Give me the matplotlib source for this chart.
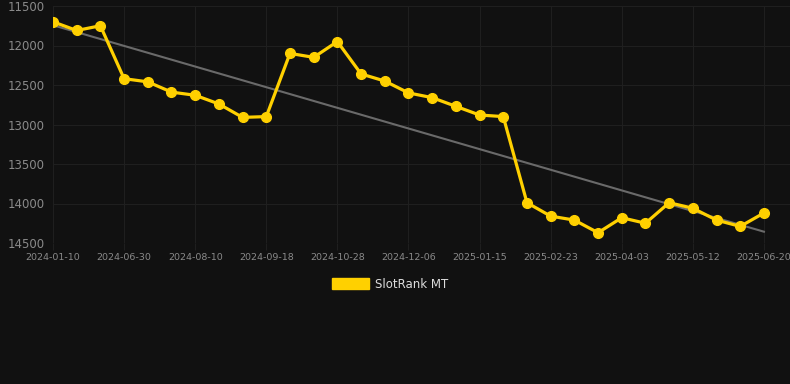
import numpy as np
import matplotlib
matplotlib.use("Agg")
import matplotlib.pyplot as plt

# one point per step; every third date is labelled on the axis
ranks = [11700, 11810, 11750, 12420, 12460, 12590, 12630, 12740, 12910, 12900,
         12100, 12150, 11950, 12360, 12450, 12600, 12660, 12770, 12880, 12900,
         13990, 14160, 14210, 14370, 14180, 14250, 13990, 14060, 14210, 14290,
         14120]
tick_labels = ["2024-01-10", "2024-06-30", "2024-08-10", "2024-09-18",
               "2024-10-28", "2024-12-06", "2025-01-15", "2025-02-23",
               "2025-04-03", "2025-05-12", "2025-06-20"]
series_name = "SlotRank MT"

bg = "#111111"
gold = "#ffd000"
grid = "#1f1f1f"
label_col = "#8a8a8a"

fig = plt.figure(figsize=(7.9, 3.84), dpi=100, facecolor=bg)
ax = fig.add_axes([53 / 790, 1 - 243 / 384, (790 - 53) / 790, (243 - 6) / 384])
ax.set_facecolor(bg)

x = np.arange(len(ranks))
y = np.array(ranks)

# linear trend
k, b = np.polyfit(x, y, 1)
ax.plot(x, k * x + b, color="#6a6a6a", lw=1.5, zorder=2)

ax.plot(x, y, color=gold, lw=2.3, marker="o", ms=7,
        markerfacecolor=gold, markeredgecolor=gold, zorder=3,
        label=series_name)

ax.set_xlim(0, 31.1)
ax.set_ylim(14500, 11500)
ax.set_yticks([11500, 12000, 12500, 13000, 13500, 14000, 14500])
ax.set_xticks(x[::3])
ax.set_xticklabels(tick_labels)

ax.grid(True, color=grid, lw=0.8)
for s in ax.spines.values():
    s.set_visible(False)
ax.tick_params(axis="y", colors=label_col, labelsize=8.5, length=0, pad=6)
ax.tick_params(axis="x", colors=label_col, labelsize=6.8, length=5,
               color=grid, pad=2)

# legend with a filled box
handle = matplotlib.patches.Patch(facecolor=gold, edgecolor=gold)
leg = fig.legend([handle], [series_name], loc="center",
                 bbox_to_anchor=(390 / 790, 1 - 284 / 384), frameon=False,
                 fontsize=8.5, handlelength=3.2, handleheight=1.0,
                 handletextpad=0.5)
for t in leg.get_texts():
    t.set_color("#dddddd")

fig.savefig("out.png", dpi=100, facecolor=bg)
